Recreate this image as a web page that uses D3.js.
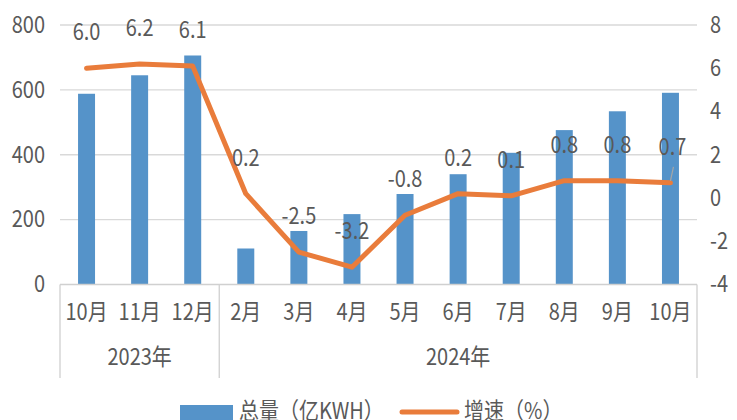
<!DOCTYPE html>
<html>
<head>
<meta charset="utf-8">
<script src="https://cdn.jsdelivr.net/npm/d3@7"></script>
<style>
body { margin: 0; background: #fff; }
text { font-family: "Noto Sans CJK SC", "Noto Sans", sans-serif; fill: #595959; }
</style>
</head>
<body>
<div class="chart"></div>
<script>
const months = ['10月', '11月', '12月', '2月', '3月', '4月', '5月', '6月', '7月', '8月', '9月', '10月']
const years = ['2023年', '2024年']
const yearSpans = [3, 9]
const totals = [588, 645, 706, 111, 165, 217, 279, 340, 406, 476, 534, 591]
const growth = [6.0, 6.2, 6.1, 0.2, -2.5, -3.2, -0.8, 0.2, 0.1, 0.8, 0.8, 0.7]
const leftTicks = [0, 200, 400, 600, 800]
const rightTicks = [-4, -2, 0, 2, 4, 6, 8]

const W = 737, H = 420
const plotL = 60, plotR = 697, plotT = 25, base = 284.5
const sy = 1.15 // text in the picture is a bit stretched vertically

const svg = d3.select('.chart').append('svg')
    .attr('width', W)
    .attr('height', H)

const x = d3.scaleBand()
    .domain(d3.range(months.length))
    .range([plotL, plotR])
    .paddingInner(0.68)
    .paddingOuter(0.34)

const yL = d3.scaleLinear().domain([0, 800]).range([base, plotT])
const yR = d3.scaleLinear().domain([-4, 8]).range([base, plotT])
const step = x.step()
const cx = i => x(i) + x.bandwidth() / 2
const at = (px, py) => `translate(${px},${py}) scale(1,${sy})`

// gridlines
svg.append('g').selectAll('line')
    .data(leftTicks.slice(1))
    .enter().append('line')
    .attr('x1', plotL).attr('x2', plotR)
    .attr('y1', d => yL(d)).attr('y2', d => yL(d))
    .attr('stroke', '#d9d9d9').attr('stroke-width', 1.3)

// axes
const axL = svg.append('g')
    .attr('transform', `translate(${plotL},0)`)
    .call(d3.axisLeft(yL).tickValues(leftTicks).tickFormat(d => d).tickSize(0).tickPadding(15))
const axR = svg.append('g')
    .attr('transform', `translate(${plotR},0)`)
    .call(d3.axisRight(yR).tickValues(rightTicks).tickFormat(d => d).tickSize(0).tickPadding(13))
;[axL, axR].forEach(a => {
    a.select('.domain').remove()
    a.selectAll('text').attr('font-size', 20).attr('fill', '#595959')
        .attr('transform', `scale(1,${sy})`)
        .style('font-family', '"Noto Sans CJK SC", "Noto Sans", sans-serif')
})

// bars
svg.append('g').selectAll('rect')
    .data(totals)
    .enter().append('rect')
    .attr('x', (d, i) => x(i))
    .attr('y', d => yL(d))
    .attr('width', x.bandwidth())
    .attr('height', d => base - yL(d))
    .attr('fill', '#5593c9')

// category axis
const cat = svg.append('g')
cat.append('line')
    .attr('x1', plotL).attr('x2', plotR)
    .attr('y1', base).attr('y2', base)
    .attr('stroke', '#d0d0d0').attr('stroke-width', 1.3)

let acc = 0
const bounds = [0]
yearSpans.forEach(n => { acc += n; bounds.push(acc) })
cat.selectAll('.sep')
    .data(bounds)
    .enter().append('line')
    .attr('x1', d => plotL + d * step).attr('x2', d => plotL + d * step)
    .attr('y1', base).attr('y2', 378)
    .attr('stroke', '#d0d0d0').attr('stroke-width', 1.3)

cat.selectAll('.month')
    .data(months)
    .enter().append('text')
    .attr('transform', (d, i) => at(cx(i), 312))
    .attr('dy', '0.35em')
    .attr('text-anchor', 'middle')
    .attr('font-size', 20)
    .text(d => d)

cat.selectAll('.year')
    .data(years)
    .enter().append('text')
    .attr('transform', (d, i) => at(plotL + (bounds[i] + bounds[i + 1]) / 2 * step, 357))
    .attr('dy', '0.35em')
    .attr('text-anchor', 'middle')
    .attr('font-size', 20)
    .text(d => d)

// growth line
const line = d3.line()
    .x((d, i) => cx(i))
    .y(d => yR(d))

svg.append('path')
    .datum(growth)
    .attr('d', line)
    .attr('fill', 'none')
    .attr('stroke', '#e97c3b')
    .attr('stroke-width', 5)
    .attr('stroke-linejoin', 'round')
    .attr('stroke-linecap', 'round')

// data labels
const last = growth.length - 1
svg.append('line')
    .attr('x1', cx(last) + 3).attr('y1', yR(growth[last]) - 16)
    .attr('x2', cx(last)).attr('y2', yR(growth[last]) - 2)
    .attr('stroke', '#a6a6a6').attr('stroke-width', 1.2)

svg.append('g').selectAll('text')
    .data(growth)
    .enter().append('text')
    .attr('transform', (d, i) => at(cx(i) + (i === last ? 2 : 0), yR(d) - 36))
    .attr('dy', '0.35em')
    .attr('text-anchor', 'middle')
    .attr('font-size', 20)
    .attr('fill', '#404040')
    .text(d => d.toFixed(1))

// legend
const lg = svg.append('g')
lg.append('rect')
    .attr('x', 180).attr('y', 405)
    .attr('width', 53).attr('height', 15)
    .attr('fill', '#5593c9')
lg.append('text')
    .attr('transform', at(239, 411))
    .attr('dy', '0.35em')
    .attr('font-size', 20)
    .text('总量（亿KWH）')
lg.append('line')
    .attr('x1', 402).attr('x2', 457)
    .attr('y1', 412).attr('y2', 412)
    .attr('stroke', '#e97c3b').attr('stroke-width', 5)
    .attr('stroke-linecap', 'round')
lg.append('text')
    .attr('transform', at(464, 411))
    .attr('dy', '0.35em')
    .attr('font-size', 20)
    .text('增速（%）')
</script>
</body>
</html>
